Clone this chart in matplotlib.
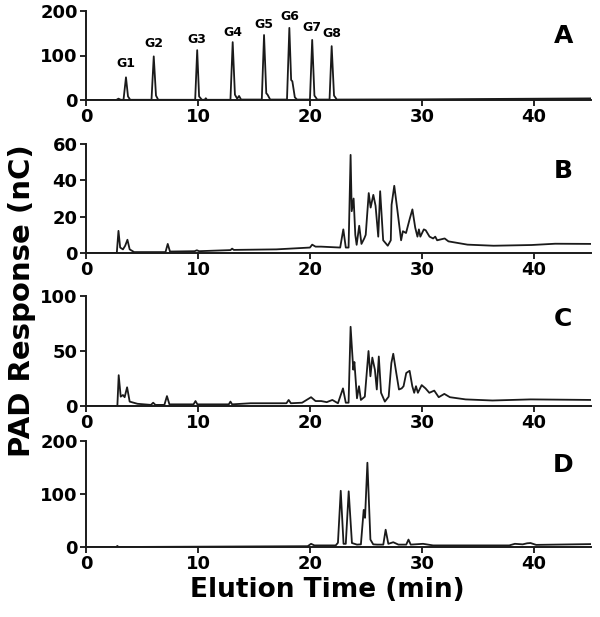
import matplotlib.pyplot as plt

# chromatogram traces: (elution time in min, response in nC)
t_a = [0, 2.7, 2.9, 3.1, 3.35, 3.57, 3.75, 3.95, 5.85, 6.05, 6.25, 6.45, 9.75, 9.93, 10.1,
       10.35, 10.6, 10.7, 10.8, 12.9, 13.1, 13.3, 13.5, 13.67, 13.85, 15.7, 15.9, 16.1, 16.2,
       16.45, 17.95, 18.16, 18.32, 18.43, 18.65, 18.85, 20.0, 20.2, 20.4, 20.65, 21.75, 21.94,
       22.15, 22.4, 30, 45.2]
y_a = [0, 0, 3, 0.5, 0.5, 51, 8, 0.5, 0.5, 98, 10, 0.5, 0.5, 112, 8, 0.5, 0.5, 4, 0.5, 0.5,
       130, 12, 3, 9, 1, 1, 146, 15, 12.5, 1, 1, 162, 45, 42, 6, 1, 1, 135, 10, 1, 1, 121, 10,
       1, 1.5, 3.6]

t_b = [0, 2.75, 2.9, 3.05, 3.3, 3.5, 3.7, 3.9, 4.3, 7.1, 7.3, 7.5, 9.7, 9.9, 10.1, 12.9,
       13.05, 13.2, 17, 20.0, 20.2, 20.5, 21.0, 22.7, 22.98, 23.2, 23.45, 23.63, 23.73, 23.9,
       24.05, 24.17, 24.4, 24.6, 24.85, 24.98, 25.25, 25.42, 25.66, 25.86, 26.1, 26.27, 26.54,
       26.95, 27.22, 27.29, 27.53, 27.8, 28.14, 28.3, 28.58, 28.92, 29.15, 29.4, 29.6, 29.73,
       29.86, 30.17, 30.34, 30.68, 31.0, 31.19, 31.36, 32.03, 32.37, 34.07, 36.4, 39.8, 41.9,
       45.2]
y_b = [0, 0, 12.2, 3, 2, 4, 7.3, 2, 0.5, 0.5, 5, 0.8, 1, 1.5, 1, 1.6, 2.4, 1.7, 2, 3, 4.6,
       3.5, 3.5, 3, 13, 3, 3, 54, 23, 30, 10, 4.5, 15, 5, 8, 10, 33, 25, 32, 26, 9, 34, 7, 4, 7,
       26.5, 37, 24, 7, 12, 11, 19, 24, 14, 9, 13, 9, 13, 12.5, 9, 8, 9, 7, 8, 6.4, 4.6, 4,
       4.4, 5.1, 5]

t_c = [0, 2.8, 2.92, 3.1, 3.3, 3.45, 3.67, 3.9, 4.6, 5.8, 6.0, 6.2, 7.0, 7.23, 7.45, 9.6,
       9.78, 9.95, 12.75, 12.9, 13.05, 14.7, 15.55, 17.9, 18.1, 18.3, 19.3, 20.1, 20.5, 21.0,
       21.5, 22.0, 22.5, 22.95, 23.2, 23.45, 23.63, 23.87, 23.97, 24.2, 24.38, 24.55, 24.9,
       25.23, 25.4, 25.57, 25.8, 25.97, 26.15, 26.35, 26.69, 27.03, 27.27, 27.44, 27.71, 27.95,
       28.19, 28.36, 28.6, 28.9, 29.14, 29.31, 29.47, 29.64, 29.98, 30.32, 30.66, 31.1, 31.5,
       32.0, 32.5, 33.9, 36.3, 39.7, 45.2]
y_c = [0, 0, 28, 8.5, 10, 8, 17, 4, 2, 1, 3, 1, 1, 9, 1.5, 1.5, 4.5, 1.5, 1.5, 4, 1.5, 2.5,
       2.5, 2.5, 5.5, 2.5, 3, 8, 4.5, 4.5, 3.5, 5.5, 2.5, 16, 3, 3, 72, 33, 40, 7, 18, 5.5, 8.5,
       50, 27, 44, 33, 15, 45, 12, 4, 8.5, 39, 47.5, 30, 15, 16, 18, 30, 32, 18, 12, 18, 12, 19,
       16, 12, 14, 8, 11, 8, 6, 5, 6, 5.5]

t_d = [0, 2.7, 2.8, 2.9, 19.8, 20.1, 20.4, 21.0, 22.3, 22.5, 22.75, 23.0, 23.2, 23.46,
       23.75, 24.2, 24.55, 24.8, 24.92, 25.13, 25.4, 25.65, 26.0, 26.55, 26.76, 27.0, 27.44,
       27.9, 28.6, 28.8, 29.0, 30.1, 31.0, 37.8, 38.3, 39.0, 39.4, 39.7, 40.2, 45.2]
y_d = [0, 0, 2, 0, 1.5, 6, 3, 3, 3, 8, 106, 6, 6, 105, 7.5, 4.5, 5, 70, 55, 159, 14, 5,
       4.5, 4.5, 32.6, 6, 9, 4.5, 4.5, 14, 4.5, 6, 3, 3, 6, 5, 7, 7.5, 4, 5.5]

peak_names = ["G1", "G2", "G3", "G4", "G5", "G6", "G7", "G8"]
peak_t = [3.57, 6.05, 9.93, 13.1, 15.9, 18.16, 20.2, 21.94]
peak_label_y = [82, 126, 135, 152, 170, 187, 163, 150]

panels = [
    ("A", t_a, y_a, 200, [0, 100, 200], 0.72),
    ("B", t_b, y_b, 60, [0, 20, 40, 60], 0.75),
    ("C", t_c, y_c, 100, [0, 50, 100], 0.79),
    ("D", t_d, y_d, 200, [0, 100, 200], 0.77),
]
# axes boxes in pixels (top, bottom) of a 600x617 figure
boxes = [(11, 100), (144, 253), (296, 406), (441, 547)]

fig = plt.figure(figsize=(6, 6.17), dpi=100)
W, H = 600.0, 617.0
x0, x1 = 86, 591

for (letter, t, y, ymax, yt, ly), (top, bot) in zip(panels, boxes):
    ax = fig.add_axes([x0 / W, 1 - bot / H, (x1 - x0) / W, (bot - top) / H])
    ax.plot(t, y, color="#1a1a1a", lw=1.3)
    ax.set_xlim(0, 45.1)
    ax.set_ylim(0, ymax)
    ax.set_xticks([0, 10, 20, 30, 40])
    ax.set_yticks(yt)
    for s in ["top", "right"]:
        ax.spines[s].set_visible(False)
    for s in ["left", "bottom"]:
        ax.spines[s].set_linewidth(1.4)
        ax.spines[s].set_color("#1a1a1a")
    ax.tick_params(direction="out", length=4, width=1.2, labelsize=13, pad=2)
    for lab in ax.get_xticklabels() + ax.get_yticklabels():
        lab.set_fontweight("bold")
    ax.text(0.945, ly, letter, transform=ax.transAxes, ha="center", va="center",
            fontsize=18, fontweight="bold")
    if letter == "A":
        for name, pt, py in zip(peak_names, peak_t, peak_label_y):
            ax.text(pt, py, name, ha="center", va="center", fontsize=9, fontweight="bold")

fig.text(0.036, 0.512, "PAD Response (nC)", rotation=90, ha="center", va="center",
         fontsize=21, fontweight="bold")
fig.text(0.545, 0.044, "Elution Time (min)", ha="center", va="center",
         fontsize=19, fontweight="bold")

fig.savefig("out.png", dpi=100)
